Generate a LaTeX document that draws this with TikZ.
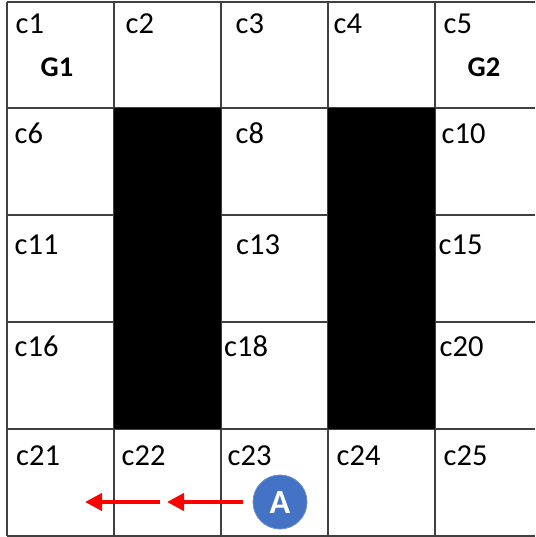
\documentclass[tikz,border=0pt]{standalone}
\usepackage{fontspec}
\setmainfont{Carlito}
\usetikzlibrary{arrows.meta}
\definecolor{gridgray}{HTML}{404040}
\definecolor{ablue}{HTML}{4472C4}
\definecolor{arrred}{HTML}{FF0000}
\tikzset{
  gridline/.style={draw=gridgray, line width=1.2pt},
  blockcell/.style={fill=black, draw=none},
  lbl/.style={anchor=base west, inner sep=0pt, font=\fontsize{30.5}{32}\selectfont},
  goal/.style={anchor=base west, inner sep=0pt, font=\fontsize{28.5}{30}\selectfont\bfseries},
  agent/.style={circle, fill=ablue, draw=ablue!80!white, line width=0.8pt, minimum size=54pt, inner sep=0pt, text=white, font=\fontsize{34}{36}\selectfont\bfseries},
  movearrow/.style={draw=arrred, line width=4pt, -{Triangle[length=17pt,width=17pt]}}
}
\begin{document}
\begin{tikzpicture}[x=1pt,y=-1pt]
\useasboundingbox (0,0) rectangle (535,537);
\fill[white] (0,0) rectangle (535,537);
% grid lines
\foreach \x in {7,114,221,328,435} \draw[gridline] (\x,2) -- (\x,536);
\foreach \y in {2,108,215,322,429,536} \draw[gridline] (7,\y) -- (535,\y);
% blocked cells
\fill[blockcell] (114,108) rectangle (221,429);
\fill[blockcell] (328,108) rectangle (435,429);
% labels
\node[lbl] (c1) at (15.5,34) {c1};
\node[lbl] (c2) at (125.5,34) {c2};
\node[lbl] (c3) at (235.5,34) {c3};
\node[lbl] (c4) at (333.5,34) {c4};
\node[lbl] (c5) at (443.5,34) {c5};
\node[lbl] (c6) at (14.5,144) {c6};
\node[lbl] (c8) at (235.5,144) {c8};
\node[lbl] (c10) at (441.5,144) {c10};
\node[lbl] (c11) at (14.5,254) {c11};
\node[lbl] (c13) at (236,254) {c13};
\node[lbl] (c15) at (438.5,254) {c15};
\node[lbl] (c16) at (14.5,356) {c16};
\node[lbl] (c18) at (224,356) {c18};
\node[lbl] (c20) at (439.5,356) {c20};
\node[lbl] (c21) at (16,465) {c21};
\node[lbl] (c22) at (121.5,465) {c22};
\node[lbl] (c23) at (227.5,465) {c23};
\node[lbl] (c24) at (336.5,465) {c24};
\node[lbl] (c25) at (443.5,465) {c25};
\node[goal] (G1) at (40.5,77) {G1};
\node[goal] (G2) at (467.5,77) {G2};
% agent and moves
\node[agent] (A) at (280,502) {A};
\coordinate (t2) at (167,502);
\coordinate (s1) at (160,502);
\coordinate (t1) at (85,502);
\draw[movearrow, shorten <=10pt] (A.west) -- (t2);
\draw[movearrow] (s1) -- (t1);
\end{tikzpicture}
\end{document}
